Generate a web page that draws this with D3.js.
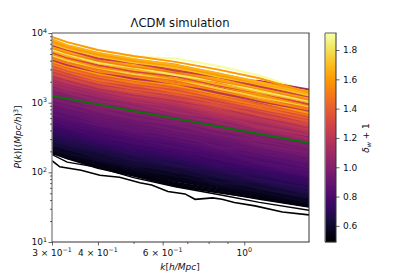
<!DOCTYPE html>
<html><head><meta charset="utf-8">
<script src="https://cdn.jsdelivr.net/npm/d3@7"></script>
<style>html,body{margin:0;padding:0;background:#fff}svg{display:block}text{font-family:"DejaVu Sans";fill:#111}</style>
</head><body><svg id="c" width="415" height="277"></svg>
<script>
const kValues=[0.3,0.33,0.4,0.5,0.65,0.85,1.1,1.5];
const xMajor=[0.3,0.4,0.6,1];
const xMinor=[0.5,0.7,0.8,0.9];
const yMajor=[10,100,1000,10000];
const cbTicks=[0.6,0.8,1.0,1.2,1.4,1.6,1.8];
const deltaDomain=[0.49,1.916];
const meanPower=[1250,1140,945,761,590,455,354,263];
const overlayDeltas=[1.9,1.12];
const overlayPower=[[5800,5200,4700,4600,4300,3350,2450,1450],[5300,4500,3500,3050,2650,2150,2050,1550]];
const lowestK=[.3,.315,.36,.405,.458,.52,.56,.62,.69,.735,.82,.87,.94,1.07,1.27,1.5];
const lowestPower=[147,120,107,91,85,71,66,53,49,41,43,41,37,33,27,24.5];
const lowDeltas=[0.5,0.51];
const lowPower=[[180,140,118,84,62,48,37,28.5],[195,158,124,92,67,52,41,31.7]];
const edgeDeltas=[0.52,0.53,0.54];
const edgePower=[[190,160,116,90,64,52,43,33],[198,165,125,96,70,56,46,35],[205,172,130,100,76,60,47,36]];
const deltas=[.55,.58,.6,.57,.62,.63,.62,.66,.65,.68,.67,.71,.70,.72,.74,.73,.76,.75,.79,.8,
.79,.82,.81,.84,.83,.86,.88,.85,.9,.89,.91,.9,.93,.95,.92,.97,.99,.95,1.01,.99,1.03,.99,1.05,1.08,1.03,1.12,1.09,1.15,1.12,1.18,
1.22,1.16,1.28,1.33,1.25,1.38,1.3,1.45,1.35,1.5,1.42,1.6,1.2,1.55,1.48,1.75,1.58,1.3,1.65,1.82,1.52,1.62,1.25,1.7,1.6,1.66,1.6];
const power=[
[200,176,136,108,84,64,49,36],[210,183,147,111,90,65,52,37],[221,197,148,124,91,73,53,41],[232,200,160,128,93,77,55,39],
[243,219,160,126,104,73,61,46],[255,224,181,135,112,82,59,45],[268,236,182,145,113,86,66,48],[281,244,197,149,121,87,70,49],
[295,263,198,165,121,97,71,55],[310,267,214,171,124,102,73,53],[326,293,215,170,140,98,82,62],[342,301,243,181,150,109,79,60],
[359,316,244,194,151,115,88,65],[377,328,264,200,162,117,94,66],[396,352,265,222,162,131,95,73],[416,358,287,229,166,137,98,71],
[436,392,288,227,187,131,109,83],[458,403,325,243,202,147,105,80],[481,423,327,260,202,154,118,87],[505,439,354,268,217,157,126,88],
[530,472,355,297,217,175,127,98],[557,479,384,306,223,184,131,95],[585,527,386,304,252,176,146,111],[614,540,436,325,270,196,141,107],
[645,568,439,348,271,206,158,116],[677,589,474,359,291,210,169,118],[711,633,476,398,292,235,171,132],[746,642,515,410,298,246,175,127],
[784,706,517,408,337,235,196,149],[823,724,584,436,362,263,189,144],[864,760,588,467,363,276,212,156],[907,789,635,481,390,281,227,159],
[953,848,639,534,391,314,229,176],[1000,860,690,550,400,330,235,170],[1050,945,693,546,452,315,263,200],[1103,971,783,585,485,353,254,193],
[1158,1019,787,625,486,371,284,208],[1216,1058,851,644,523,377,304,213],[1277,1137,856,715,524,421,306,236],[1340,1152,925,737,536,442,315,228],
[1407,1266,929,732,605,422,352,267],[1478,1301,1049,783,650,473,340,259],[1552,1366,1055,838,652,497,380,279],[1629,1417,1140,863,700,505,407,285],
[1711,1523,1146,958,701,565,411,317],[1796,1545,1239,988,718,593,422,305],[1886,1697,1245,981,811,566,472,358],[1980,1742,1406,1049,871,634,455,347],
[2079,1830,1414,1123,873,665,509,374],[2183,1899,1528,1157,939,677,546,382],
[2292,1970,1530,1240,1010,770,590,410],[2407,2090,1560,1290,1060,850,610,445],[2527,2180,1700,1370,1120,860,670,460],[2653,2240,1790,1420,1210,890,680,495],
[2786,2400,1810,1560,1220,980,710,520],[2925,2510,1950,1580,1320,990,780,530],[3072,2580,2080,1650,1410,1030,790,580],[3225,2780,2090,1800,1420,1140,830,600],
[3386,2870,2250,1840,1550,1150,900,615],[3556,3000,2370,1920,1630,1200,910,670],[3733,3200,2420,2080,1640,1310,950,690],[3920,3340,2590,2130,1780,1330,1040,710],
[4116,3460,2760,2210,1880,1380,1050,770],[4322,3720,2790,2400,1880,1530,1100,800],[4538,3840,3000,2450,2060,1540,1200,820],[4765,4020,3170,2570,2190,1600,1210,890],
[5003,4300,3220,2780,2180,1770,1270,920],[5253,4450,3460,2830,2390,1770,1390,950],[5516,4620,3670,2960,2520,1830,1400,1020],[5792,4950,3730,3200,2500,2030,1470,1060],
[6081,5150,4000,3280,2780,2050,1600,1100],[6385,5350,4250,3430,2920,2130,1620,1170],[6705,5720,4300,3700,2900,2330,1700,1230],[7040,5950,4650,3780,3200,2360,1850,1270],
[7392,6250,4850,3970,3350,2470,1880,1370],[8150,6700,5200,4250,3450,2650,1950,1350],[8800,7400,5700,4680,3850,2980,2240,1400]];

const L=52,R=309,T=33,B=242,CL=325,CR=336;
const svg=d3.select("#c");
const x=d3.scaleLog().domain([0.3,1.5]).range([L,R]);
const y=d3.scaleLog().domain([10,10000]).range([B,T]);
const c=d3.scaleSequential(d3.interpolateInferno).domain(deltaDomain);
const cy=d3.scaleLinear().domain(deltaDomain).range([B,T]);
svg.append("defs").append("clipPath").attr("id","pl").append("rect").attr("x",L).attr("y",T).attr("width",R-L).attr("height",B-T);
const line=d3.line().x((d,i)=>x(kValues[i])).y(d=>y(d));
const plot=svg.append("g").attr("clip-path","url(#pl)");
function draw(rows,ds,w){plot.append("g").selectAll("path").data(rows).join("path")
 .attr("d",line).attr("fill","none").attr("stroke",(d,i)=>c(ds[i])).attr("stroke-width",w).attr("stroke-linejoin","round");}
draw(overlayPower,overlayDeltas,2);
plot.append("path").datum(lowestPower).attr("d",d3.line().x((d,i)=>x(lowestK[i])).y(d=>y(d))).attr("fill","none").attr("stroke",c(0.49)).attr("stroke-width",1.6);
draw(lowPower,lowDeltas,1.4);
draw(edgePower,edgeDeltas,2.6);
draw(power.slice(0,-2),deltas.slice(0,-2),5);
draw(power,deltas,2);
plot.append("path").datum(meanPower).attr("d",line).attr("fill","none").attr("stroke","#087508").attr("stroke-width",2);

function spine(x1,y1,x2,y2,col,w){svg.append("line").attr("x1",x1).attr("y1",y1).attr("x2",x2).attr("y2",y2).attr("stroke",col).attr("stroke-width",w);}
spine(L,T,R+.5,T,"#8a8a8a",1.4);spine(L,T,L,B,"#8a8a8a",1.4);
spine(L,B,R+.5,B,"#333",1);spine(R,T,R,B,"#333",1);

const fs=9;
function sup(t,parts){parts.forEach(p=>{const s=t.append("tspan").text(p[0]);if(p[1]){s.attr("font-size",fs*.7).attr("dy",-3.5);}});}
const xg=svg.append("g").attr("transform",`translate(0,${B})`);
xg.call(d3.axisBottom(x).tickValues(xMajor).tickSize(3.5).tickFormat(()=>""));
const xm=svg.append("g").attr("transform",`translate(0,${B})`);
xm.call(d3.axisBottom(x).tickValues(xMinor).tickSize(2).tickFormat(()=>""));
[xg,xm].forEach(g=>{g.select(".domain").remove();g.selectAll("line").attr("stroke","#222").attr("stroke-width",.7);});
xMajor.forEach(v=>{
 const t=svg.append("text").attr("x",x(v)).attr("y",B+13.5).attr("text-anchor","middle").attr("font-size",fs);
 if(v===1){sup(t,[["10"],["0",1]]);}
 else{const e=Math.round(v*10);sup(t,[[e+" × 10"],["−1",1]]);}
});
const yg=svg.append("g").attr("transform",`translate(${L},0)`);
yg.call(d3.axisLeft(y).tickValues(yMajor).tickSize(3.5).tickFormat(()=>""));
const yMinorVals=[];[10,100,1000].forEach(d=>[2,3,4,5,6,7,8,9].forEach(m=>yMinorVals.push(d*m)));
const ym=svg.append("g").attr("transform",`translate(${L},0)`);
ym.call(d3.axisLeft(y).tickValues(yMinorVals).tickSize(2).tickFormat(()=>""));
[yg,ym].forEach(g=>{g.select(".domain").remove();g.selectAll("line").attr("stroke","#222").attr("stroke-width",.7);});
yMajor.forEach(v=>{
 const t=svg.append("text").attr("x",L-5).attr("y",y(v)+3).attr("text-anchor","end").attr("font-size",fs);
 sup(t,[["10"],[String(Math.round(Math.log10(v))),1]]);
});

svg.append("text").attr("x",180).attr("y",27).attr("text-anchor","middle").attr("font-size",11.6).text("ΛCDM simulation");
const xl=svg.append("text").attr("x",180).attr("y",270).attr("text-anchor","middle").attr("font-size",fs);
xl.append("tspan").attr("font-style","italic").text("k");xl.append("tspan").text("[");xl.append("tspan").attr("font-style","italic").text("h/Mpc");xl.append("tspan").text("]");
const yl=svg.append("text").attr("transform","translate(21,137) rotate(-90)").attr("text-anchor","middle").attr("font-size",fs);
yl.append("tspan").attr("font-style","italic").text("P");yl.append("tspan").text("(");yl.append("tspan").attr("font-style","italic").text("k");yl.append("tspan").text(")[(");
yl.append("tspan").attr("font-style","italic").text("Mpc/h");yl.append("tspan").text(")");
yl.append("tspan").attr("font-size",fs*.7).attr("dy",-3.5).text("3");yl.append("tspan").attr("dy",3.5).text("]");

const grad=d3.range(0,B-T);
svg.append("g").selectAll("rect").data(grad).join("rect")
 .attr("x",CL).attr("width",CR-CL).attr("y",d=>T+d).attr("height",1.2)
 .attr("fill",d=>c(cy.invert(T+d+.5)));
spine(CL,T,CR+.5,T,"#8a8a8a",1.4);spine(CL,T,CL,B,"#8a8a8a",1.4);
spine(CL,B,CR+.5,B,"#333",1);spine(CR,T,CR,B,"#333",1);
const cg=svg.append("g").attr("transform",`translate(${CR},0)`);
cg.call(d3.axisRight(cy).tickValues(cbTicks).tickSize(3.5).tickFormat(d3.format(".1f")));
cg.select(".domain").remove();
cg.selectAll("line").attr("stroke","#222").attr("stroke-width",.7);
cg.selectAll("text").attr("font-size",fs).attr("font-family","DejaVu Sans").attr("x",7).attr("fill","#111");
const cl=svg.append("text").attr("transform","translate(369,138) rotate(-90)").attr("text-anchor","middle").attr("font-size",fs);
cl.append("tspan").attr("font-style","italic").text("δ");cl.append("tspan").attr("font-style","italic").attr("font-size",fs*.7).attr("dy",2).text("w");
cl.append("tspan").attr("dy",-2).text(" + 1");
</script></body></html>
